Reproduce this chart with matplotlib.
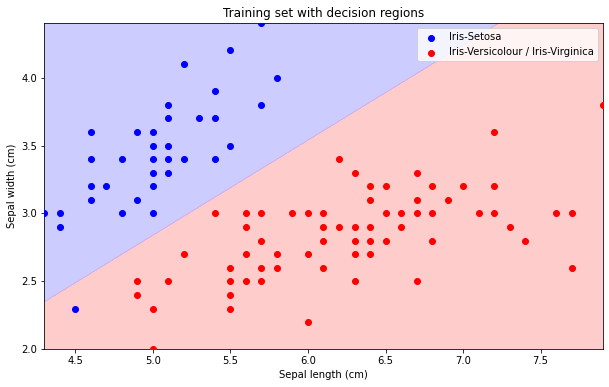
import numpy as np
import matplotlib
matplotlib.use("Agg")
import matplotlib.pyplot as plt
from matplotlib.colors import ListedColormap

# ---- data ----
setosa_x = [5.7, 5.5, 5.2, 5.8, 5.4, 5.1, 5.7, 5.1, 5.3, 5.4, 4.6, 4.9, 5.0, 5.0, 5.1, 5.5,
            4.6, 4.8, 5.0, 5.1, 5.2, 5.4, 5.0, 5.1, 4.6, 4.7, 5.0, 4.6, 4.9, 4.3, 4.4, 4.8,
            5.0, 4.4, 4.5]
setosa_y = [4.4, 4.2, 4.1, 4.0, 3.9, 3.8, 3.8, 3.7, 3.7, 3.7, 3.6, 3.6, 3.6, 3.5, 3.5, 3.5,
            3.4, 3.4, 3.4, 3.4, 3.4, 3.4, 3.3, 3.3, 3.2, 3.2, 3.2, 3.1, 3.1, 3.0, 3.0, 3.0,
            3.0, 2.9, 2.3]

other_x = [5.4, 5.2, 5.5, 4.9, 5.1, 5.5, 4.9, 5.5, 5.0, 5.5, 5.0,
           6.2, 6.3, 6.4, 6.5, 6.4,
           5.6, 5.7, 5.9, 6.0, 6.1, 6.5, 6.6, 6.7, 6.8, 7.1, 7.2, 7.6, 7.7,
           5.6, 6.1, 6.2, 6.3, 6.4, 6.6, 7.3,
           5.7, 6.1, 6.3, 6.4, 6.5, 6.8, 7.4,
           5.6, 5.8, 6.0, 6.3, 6.4,
           5.7, 5.8, 6.1, 7.7,
           5.6, 5.7, 6.3, 6.7,
           6.0,
           7.9, 7.2, 6.7, 6.8, 7.0, 7.2, 6.7, 6.9]
other_y = [3.0, 2.7, 2.6, 2.5, 2.5, 2.5, 2.4, 2.4, 2.3, 2.3, 2.0,
           3.4, 3.3, 3.2, 3.2, 3.1,
           3.0, 3.0, 3.0, 3.0, 3.0, 3.0, 3.0, 3.0, 3.0, 3.0, 3.0, 3.0, 3.0,
           2.9, 2.9, 2.9, 2.9, 2.9, 2.9, 2.9,
           2.8, 2.8, 2.8, 2.8, 2.8, 2.8, 2.8,
           2.7, 2.7, 2.7, 2.7, 2.7,
           2.6, 2.6, 2.6, 2.6,
           2.5, 2.5, 2.5, 2.5,
           2.2,
           3.8, 3.6, 3.3, 3.2, 3.2, 3.2, 3.1, 3.1]

labels = ["Iris-Setosa", "Iris-Versicolour / Iris-Virginica"]

# linear decision boundary: sepal width = intercept + slope * (sepal length - 4.3)
boundary_intercept = 2.35
boundary_slope = 0.70

x_min, x_max = 4.3, 7.9
y_min, y_max = 2.0, 4.4

# ---- figure ----
W, H = 609, 387
fig = plt.figure(figsize=(W / 72, H / 72), dpi=72)
ax = fig.add_axes([44.3 / W, (H - 349.3) / H, 558.4 / W, 326 / H])

X1, X2 = np.meshgrid(np.arange(x_min - 0.1, x_max + 0.1, 0.005),
                     np.arange(y_min - 0.1, y_max + 0.1, 0.005))
Z = (X2 > boundary_intercept + boundary_slope * (X1 - 4.3)).astype(int)
ax.contourf(X1, X2, Z, levels=[-0.5, 0.5, 1.5],
            colors=["#FFCCCC", "#CCCCFF"], antialiased=False)
ax.contour(X1, X2, Z, levels=[0.5], colors=["#D8A8E0"], linewidths=0.8)

ax.scatter(setosa_x, setosa_y, c="blue", label=labels[0], zorder=3)
ax.scatter(other_x, other_y, c="red", label=labels[1], zorder=3)

ax.set_xlim(x_min, x_max)
ax.set_ylim(y_min, y_max)
ax.set_title("Training set with decision regions")
ax.set_xlabel("Sepal length (cm)")
ax.set_ylabel("Sepal width (cm)")
ax.legend(loc="upper right")

fig.savefig("out.png", dpi=72)
